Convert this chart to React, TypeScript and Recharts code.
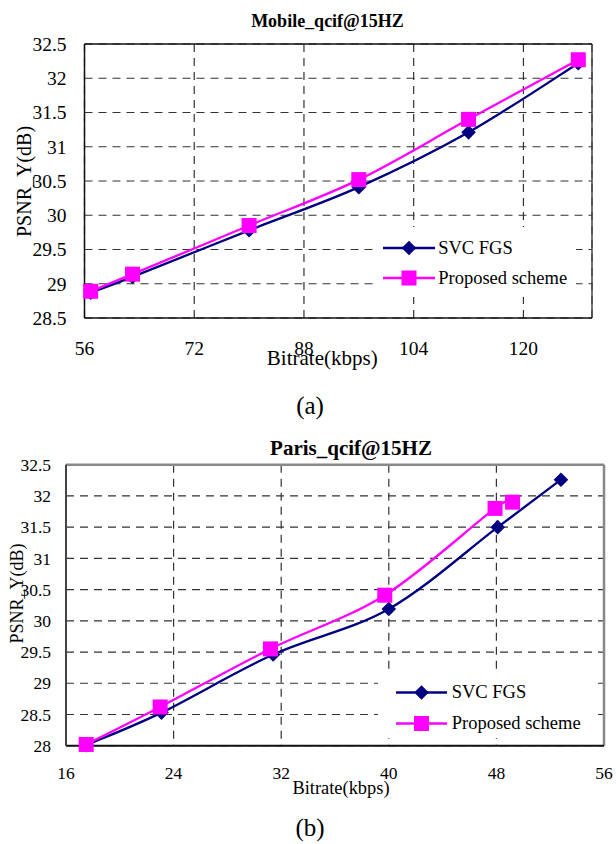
import React from 'react';
import { LineChart, Line, XAxis, YAxis, CartesianGrid, Legend, ReferenceLine } from 'recharts';

const SERIF = '"Liberation Serif", "Times New Roman", serif';
const NAVY = '#000080';
const MAGENTA = '#FF00FF';

// ---------- data ----------
const seriesNames = ['SVC FGS', 'Proposed scheme'];

const mobileTitle = 'Mobile_qcif@15HZ';
const mobileXTicks = [56, 72, 88, 104, 120];
const mobileYTicks = [28.5, 29, 29.5, 30, 30.5, 31, 31.5, 32, 32.5];
const mobileSvcRate = [56.9, 63, 80, 96, 112, 128];
const mobileSvcPsnr = [28.87, 29.1, 29.78, 30.41, 31.21, 32.22];
const mobilePropRate = [56.9, 63, 80, 96, 112, 128];
const mobilePropPsnr = [28.89, 29.14, 29.85, 30.52, 31.4, 32.27];

const parisTitle = 'Paris_qcif@15HZ';
const parisXTicks = [16, 24, 32, 40, 48, 56];
const parisYTicks = [28, 28.5, 29, 29.5, 30, 30.5, 31, 31.5, 32, 32.5];
const parisSvcRate = [17.5, 23.1, 31.4, 40.0, 48.1, 52.8];
const parisSvcPsnr = [28.01, 28.53, 29.46, 30.19, 31.5, 32.26];
const parisPropRate = [17.5, 23.0, 31.2, 39.7, 47.9, 49.2];
const parisPropPsnr = [28.02, 28.62, 29.55, 30.41, 31.8, 31.9];

const xLabelText = 'Bitrate(kbps)';
const yLabelText = 'PSNR_Y(dB)';

const toPoints = (xs: number[], ys: number[]) => xs.map((x, i) => ({ x, y: ys[i] }));

// ---------- smoothed (Excel-like Catmull-Rom) curve factory ----------
const smoothCurve = (context: any) => {
  let pts: number[][] = [];
  return {
    areaStart() {},
    areaEnd() {},
    lineStart() {
      pts = [];
    },
    point(x: number, y: number) {
      pts.push([+x, +y]);
    },
    lineEnd() {
      const n = pts.length;
      if (!n) return;
      context.moveTo(pts[0][0], pts[0][1]);
      for (let i = 0; i < n - 1; i++) {
        const p0 = pts[i - 1] || pts[i];
        const p1 = pts[i];
        const p2 = pts[i + 1];
        const p3 = pts[i + 2] || pts[i + 1];
        const c1x = p1[0] + (p2[0] - p0[0]) / 6;
        const c1y = p1[1] + (p2[1] - p0[1]) / 6;
        const c2x = p2[0] - (p3[0] - p1[0]) / 6;
        const c2y = p2[1] - (p3[1] - p1[1]) / 6;
        context.bezierCurveTo(c1x, c1y, c2x, c2y, p2[0], p2[1]);
      }
    },
  };
};

// ---------- markers ----------
const DIAMOND_R = 7.3;
const SQUARE = 15;

const diamondPts = (cx: number, cy: number, r: number) =>
  `${cx},${cy - r} ${cx + r},${cy} ${cx},${cy + r} ${cx - r},${cy}`;

const diamondDot = (p: any) => {
  if (p.cx == null || p.cy == null) return <g key={`d-${p.index}`} />;
  return <polygon key={`d-${p.index}`} points={diamondPts(p.cx, p.cy, DIAMOND_R)} fill={NAVY} />;
};
const squareDot = (p: any) => {
  if (p.cx == null || p.cy == null) return <g key={`s-${p.index}`} />;
  return (
    <rect key={`s-${p.index}`} x={p.cx - SQUARE / 2} y={p.cy - SQUARE / 2} width={SQUARE} height={SQUARE} fill={MAGENTA} />
  );
};

const markerOf: Record<string, string> = { 'SVC FGS': 'diamond', 'Proposed scheme': 'square' };

// ---------- labels ----------
const XTitle = (props: any) => {
  const vb = props.viewBox || {};
  const x = vb.x + vb.width / 2 + props.dxShift;
  const y = vb.y + props.baseline;
  return (
    <text x={x} y={y} textAnchor="middle" fontFamily={SERIF} fontSize={props.fontSize} fill="#000">
      {props.text}
    </text>
  );
};

const YTitle = (props: any) => {
  const vb = props.viewBox || {};
  const bx = vb.x + props.baseline;
  const cy = vb.y + vb.height / 2 + props.centerShift;
  return (
    <text
      x={bx}
      y={cy}
      transform={`rotate(-90 ${bx} ${cy})`}
      textAnchor="middle"
      fontFamily={SERIF}
      fontSize={props.fontSize}
      fill="#000"
    >
      {props.text}
    </text>
  );
};

// ---------- legend ----------
const LegendBox = (props: any) => {
  const { payload = [], rowHeight, iconLeft, iconWidth, gap, padTop, fontSize } = props;
  const ordered = [...payload].sort(
    (a: any, b: any) => seriesNames.indexOf(a.value) - seriesNames.indexOf(b.value)
  );
  return (
    <div style={{ paddingTop: padTop }}>
      {ordered.map((entry: any) => {
        const mid = rowHeight / 2;
        const cx = iconWidth / 2;
        const kind = markerOf[entry.value];
        return (
          <div key={entry.value} style={{ display: 'flex', alignItems: 'center', height: rowHeight }}>
            <svg width={iconWidth} height={rowHeight} style={{ marginLeft: iconLeft, display: 'block', flex: 'none' }}>
              <line x1={0} x2={iconWidth} y1={mid} y2={mid} stroke={entry.color} strokeWidth={2.3} />
              {kind === 'diamond' ? (
                <polygon points={diamondPts(cx, mid, DIAMOND_R)} fill={entry.color} />
              ) : (
                <rect x={cx - SQUARE / 2} y={mid - SQUARE / 2} width={SQUARE} height={SQUARE} fill={entry.color} />
              )}
            </svg>
            <span
              style={{
                marginLeft: gap,
                fontFamily: SERIF,
                fontSize,
                lineHeight: `${rowHeight}px`,
                color: '#000',
                whiteSpace: 'nowrap',
              }}
            >
              {entry.value}
            </span>
          </div>
        );
      })}
    </div>
  );
};

// ---------- page ----------
const titleStyle = (center: number, top: number, size: number): React.CSSProperties => ({
  position: 'absolute',
  left: center - 150,
  width: 300,
  top,
  textAlign: 'center',
  fontFamily: SERIF,
  fontWeight: 'bold',
  fontSize: size,
  lineHeight: `${size}px`,
  color: '#000',
  whiteSpace: 'nowrap',
});

const captionStyle = (center: number, top: number, size: number): React.CSSProperties => ({
  position: 'absolute',
  left: center - 50,
  width: 100,
  top,
  textAlign: 'center',
  fontFamily: SERIF,
  fontSize: size,
  lineHeight: `${size}px`,
  color: '#000',
});

export default function App() {
  const mobileSvc = toPoints(mobileSvcRate, mobileSvcPsnr);
  const mobileProp = toPoints(mobilePropRate, mobilePropPsnr);
  const parisSvc = toPoints(parisSvcRate, parisSvcPsnr);
  const parisProp = toPoints(parisPropRate, parisPropPsnr);

  return (
    <div style={{ position: 'absolute', left: 0, top: 0, width: 616, height: 844, background: '#fff' }}>
      {/* Chart (a) */}
      <div style={{ position: 'absolute', left: 0, top: 0 }}>
        <LineChart width={616} height={420} margin={{ top: 44, right: 24, left: 24.5, bottom: 72 }}>
          <CartesianGrid stroke="#333" strokeDasharray="8 6" strokeWidth={1.2} />
          <XAxis
            type="number"
            dataKey="x"
            domain={[56, 130]}
            ticks={mobileXTicks}
            interval={0}
            height={30}
            tickLine={false}
            tickMargin={17}
            axisLine={{ stroke: '#111', strokeWidth: 1.5 }}
            tick={{ fill: '#000', fontSize: 19.5, fontFamily: SERIF }}
            label={<XTitle text={xLabelText} fontSize={21} dxShift={-16} baseline={47} />}
          />
          <YAxis
            type="number"
            dataKey="y"
            domain={[28.5, 32.5]}
            ticks={mobileYTicks}
            interval={0}
            width={60}
            tickLine={false}
            tickMargin={12}
            axisLine={{ stroke: '#111', strokeWidth: 1.5 }}
            tick={{ fill: '#000', fontSize: 19.5, fontFamily: SERIF }}
            label={<YTitle text={yLabelText} fontSize={20} baseline={6} centerShift={0.5} />}
          />
          <ReferenceLine y={32.5} stroke="#111" strokeWidth={1.5} />
          <ReferenceLine x={130} stroke="#444" strokeWidth={1.5} />
          <Line
            data={mobileSvc}
            dataKey="y"
            name={seriesNames[0]}
            type={smoothCurve as any}
            stroke={NAVY}
            strokeWidth={2.3}
            dot={diamondDot}
            activeDot={false}
            isAnimationActive={false}
          />
          <Line
            data={mobileProp}
            dataKey="y"
            name={seriesNames[1]}
            type={smoothCurve as any}
            stroke={MAGENTA}
            strokeWidth={2.3}
            dot={squareDot}
            activeDot={false}
            isAnimationActive={false}
          />
          <Legend
            layout="vertical"
            align="center"
            verticalAlign="middle"
            wrapperStyle={{ left: 375, top: 227, width: 201, height: 70, background: '#fff', padding: 0, margin: 0 }}
            content={(p: any) => (
              <LegendBox {...p} rowHeight={30} iconLeft={7.7} iconWidth={52} gap={3.5} padTop={6.3} fontSize={18.5} />
            )}
          />
        </LineChart>
      </div>
      <div style={titleStyle(327.5, 12.4, 18)}>{mobileTitle}</div>
      <div style={captionStyle(310, 393, 25)}>(a)</div>

      {/* Chart (b) */}
      <div style={{ position: 'absolute', left: 0, top: 420 }}>
        <LineChart width={616} height={424} margin={{ top: 44.7, right: 12, left: 6, bottom: 68.3 }}>
          <CartesianGrid stroke="#333" strokeDasharray="8 6" strokeWidth={1.2} />
          <XAxis
            type="number"
            dataKey="x"
            domain={[16, 56]}
            ticks={parisXTicks}
            interval={0}
            height={30}
            tickLine={false}
            tickMargin={15}
            axisLine={{ stroke: '#111', strokeWidth: 2 }}
            tick={{ fill: '#000', fontSize: 17.5, fontFamily: SERIF }}
            label={<XTitle text={xLabelText} fontSize={18.4} dxShift={6} baseline={48.5} />}
          />
          <YAxis
            type="number"
            dataKey="y"
            domain={[28, 32.5]}
            ticks={parisYTicks}
            interval={0}
            width={60}
            tickLine={false}
            tickMargin={9}
            axisLine={{ stroke: '#444', strokeWidth: 2 }}
            tick={{ fill: '#000', fontSize: 17.5, fontFamily: SERIF }}
            label={<YTitle text={yLabelText} fontSize={18} baseline={17} centerShift={-11.7} />}
          />
          <ReferenceLine y={32.5} stroke="#888" strokeWidth={2.5} />
          <ReferenceLine x={56} stroke="#888" strokeWidth={2.5} />
          <Line
            data={parisSvc}
            dataKey="y"
            name={seriesNames[0]}
            type={smoothCurve as any}
            stroke={NAVY}
            strokeWidth={2.3}
            dot={diamondDot}
            activeDot={false}
            isAnimationActive={false}
          />
          <Line
            data={parisProp}
            dataKey="y"
            name={seriesNames[1]}
            type={smoothCurve as any}
            stroke={MAGENTA}
            strokeWidth={2.3}
            dot={squareDot}
            activeDot={false}
            isAnimationActive={false}
          />
          <Legend
            layout="vertical"
            align="center"
            verticalAlign="middle"
            wrapperStyle={{ left: 378, top: 254, width: 216, height: 64, background: '#fff', padding: 0, margin: 0 }}
            content={(p: any) => (
              <LegendBox {...p} rowHeight={31} iconLeft={17.7} iconWidth={51} gap={5} padTop={3.2} fontSize={18.5} />
            )}
          />
        </LineChart>
      </div>
      <div style={titleStyle(351, 438.4, 21)}>{parisTitle}</div>
      <div style={captionStyle(310, 815, 25)}>(b)</div>
    </div>
  );
}
